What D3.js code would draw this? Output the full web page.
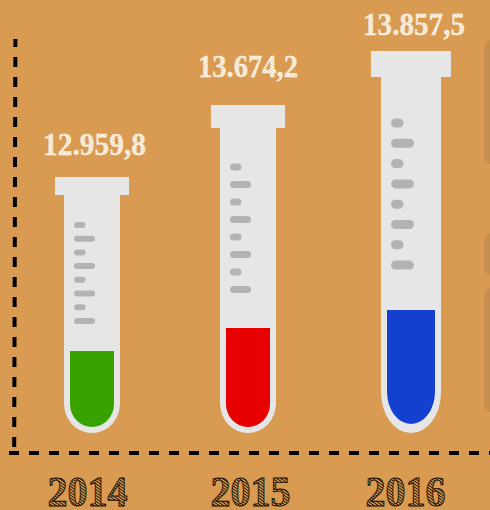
<!DOCTYPE html>
<html><head><meta charset="utf-8">
<script src="https://cdn.jsdelivr.net/npm/d3@7/dist/d3.min.js"></script>
<style>html,body{margin:0;padding:0;background:#d99a52;overflow:hidden}svg{display:block}</style>
</head><body><svg id="c" width="490" height="510"></svg>
<script>
const categories = ["2014","2015","2016"];
const values = [12959.8,13674.2,13857.5];
const valueLabels = ["12.959,8","13.674,2","13.857,5"];
const liquidColors = ["#38a300","#e60000","#1440d0"];

const W=490,H=510;
const svg=d3.select("#c");
const defs=svg.append("defs");
function hatch(id,bg,fg){
  const p=defs.append("pattern").attr("id",id).attr("width",2.4).attr("height",2.4)
    .attr("patternUnits","userSpaceOnUse").attr("patternTransform","rotate(35)");
  p.append("rect").attr("width",2.4).attr("height",2.4).attr("fill",bg);
  p.append("rect").attr("width",2.4).attr("height",0.8).attr("fill",fg);
}
hatch("hw","#fffaf2","#eccba0");
hatch("hb","#c99049","#150d04");

// Scales: each tube follows the picture's own (non-linear) pictogram sizing
const x=d3.scaleOrdinal().domain(categories).range([92,248,411]);
const topY=d3.scaleLinear().domain(values).range([177,105,51]);
const liquidTop=d3.scaleLinear().domain(values).range([351,328,310]);
const bodyW=d3.scaleLinear().domain(values).range([56,56,60]);
const capW=d3.scaleLinear().domain(values).range([74,74,80]);
const capH=d3.scaleLinear().domain(values).range([18,23,26]);
const roundness=d3.scaleLinear().domain(values).range([1.05,1.05,1.35]);
const tickStep=d3.scaleLinear().domain(values).range([13.7,17.5,20.3]);
const tickFirst=d3.scaleLinear().domain(values).range([225,167,123]);
const tickH=d3.scaleLinear().domain(values).range([6,7,9]);
const shortW=d3.scaleLinear().domain(values).range([11.5,11.5,12.5]);
const longW=d3.scaleLinear().domain(values).range([21,21,23]);
const labelGap=d3.scaleLinear().domain(values).range([22,28,16]);
const labelShift=d3.scaleLinear().domain(values).range([2.5,0,3]);
const labelLen=d3.scaleLinear().domain(values).range([103,100,102]);
const yearShift=d3.scaleOrdinal().domain(categories).range([-4.5,2.5,-5.5]);
const liquidBase=d3.scaleLinear().domain(values).range([427,427,424]);
const baseY=433, wall=6;

svg.append("rect").attr("width",W).attr("height",H).attr("fill","#d99a52");

// cropped panels at the right edge
svg.append("g").attr("fill","#c68f4e").selectAll("rect")
  .data([[40,164],[233,275],[288,412]]).join("rect")
  .attr("x",484).attr("width",30).attr("rx",7)
  .attr("y",d=>d[0]).attr("height",d=>d[1]-d[0]);

// dashed axes
const dash=svg.append("g").attr("stroke","#000").attr("stroke-width",4).attr("fill","none");
dash.append("line").attr("x1",15.4).attr("y1",39).attr("x2",14.2).attr("y2",447)
  .attr("stroke-dasharray","10 10").attr("stroke-dashoffset",2);
dash.append("line").attr("x1",9).attr("y1",453).attr("x2",490).attr("y2",453)
  .attr("stroke-dasharray","10 10");

function tubePath(cx,w,top,bottom,k){
  const r=w/2;
  const ry=r*k;
  return `M${cx-r},${top}H${cx+r}V${bottom-ry}A${r},${ry} 0 0 1 ${cx-r},${bottom-ry}Z`;
}

const g=svg.append("g").selectAll("g").data(values).join("g");
g.append("path").attr("fill","#e6e6e6")
  .attr("d",(d,i)=>tubePath(x(categories[i]),bodyW(d),topY(d)+capH(d)-1,baseY,roundness(d)));
g.append("rect").attr("fill","#e6e6e6")
  .attr("x",(d,i)=>x(categories[i])-capW(d)/2).attr("width",d=>capW(d))
  .attr("y",d=>topY(d)).attr("height",d=>capH(d));
g.append("path").attr("fill",(d,i)=>liquidColors[i])
  .attr("d",(d,i)=>tubePath(x(categories[i]),bodyW(d)-2*wall,liquidTop(d),liquidBase(d),roundness(d)));
g.each(function(d,i){
  const left=x(categories[i])-bodyW(d)/2+10;
  d3.select(this).append("g").attr("fill","#b3b3b3").selectAll("rect")
    .data(d3.range(8)).join("rect")
    .attr("x",left).attr("rx",tickH(d)/2)
    .attr("width",k=>k%2?longW(d):shortW(d))
    .attr("y",k=>tickFirst(d)+k*tickStep(d)-tickH(d)/2)
    .attr("height",tickH(d));
});

// value labels
g.append("text").text((d,i)=>valueLabels[i])
  .attr("x",(d,i)=>x(categories[i])+labelShift(d)).attr("y",d=>topY(d)-labelGap(d))
  .attr("text-anchor","middle").attr("font-family","'Liberation Serif'").attr("font-weight","bold")
  .attr("font-size",32).attr("textLength",d=>labelLen(d)).attr("lengthAdjust","spacingAndGlyphs")
  .attr("fill","url(#hw)").attr("stroke","#fffaf2").attr("stroke-width",0.3);

// category labels
svg.append("g").selectAll("text").data(categories).join("text").text(d=>d)
  .attr("x",d=>x(d)+yearShift(d)).attr("y",506)
  .attr("text-anchor","middle").attr("font-family","'Liberation Serif'").attr("font-weight","bold")
  .attr("font-size",43).attr("textLength",80).attr("lengthAdjust","spacingAndGlyphs")
  .attr("fill","url(#hb)").attr("stroke","#120b03").attr("stroke-width",0.9);
</script></body></html>
